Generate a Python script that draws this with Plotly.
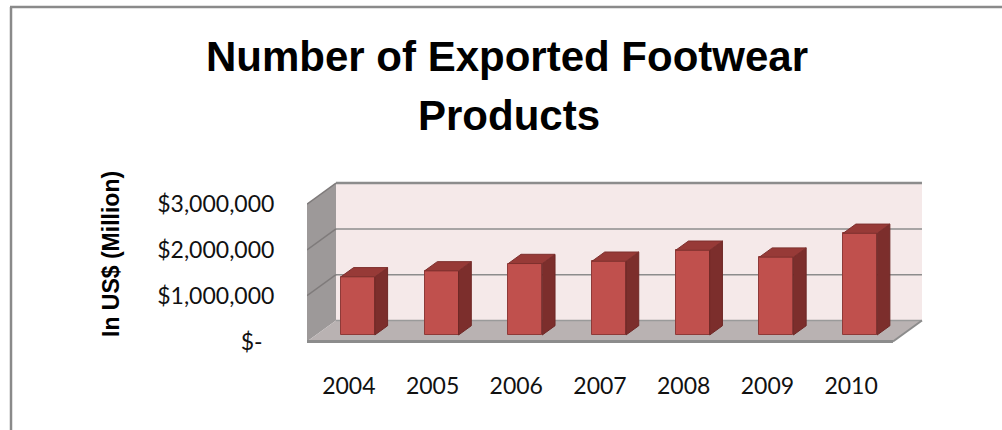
import plotly.graph_objects as go

# ---------------- data ----------------
years = ["2004", "2005", "2006", "2007", "2008", "2009", "2010"]
exports_usd = [1270000, 1400000, 1560000, 1610000, 1850000, 1700000, 2220000]
y_tick_values = [0, 1000000, 2000000, 3000000]
y_tick_labels = ["$-\u00a0\u00a0", "$1,000,000", "$2,000,000", "$3,000,000"]
title_lines = ["Number of Exported Footwear", "Products"]
y_title = "In US$ (Million)"

# ---------------- geometry (pixels) ----------------
W, H = 1002, 430
L, R, T, B = 307, 924, 180, 346          # plot area in pixels
PX_PER_CAT = 83.71
PX_PER_UNIT = 45.8 / 1e6                 # pixels per dollar
Y0_PX = 341.5                            # front-plane zero line
DEPTH_PX_X, DEPTH_PX_Y = 29, 21          # full depth offset of the 3-D box
DX = DEPTH_PX_X / PX_PER_CAT
DY = DEPTH_PX_Y / PX_PER_UNIT
D0, D1 = 0.31, 0.75                      # bar depth (front / back)
BAR_W = 34 / PX_PER_CAT
VMAX = 3000000

x_range = [-0.5, -0.5 + (R - L) / PX_PER_CAT]
y_range = [-(B - Y0_PX) / PX_PER_UNIT, (Y0_PX - T) / PX_PER_UNIT]
n = len(years)
xl, xr = -0.5, n - 0.5


def pxx(px):
    return (px - L) / (R - L)


def pyy(py):
    return (B - py) / (B - T)


fig = go.Figure()

# front faces of the columns
bar_x = [i + D0 * DX for i in range(n)]
fig.add_trace(go.Bar(
    x=bar_x, y=exports_usd, base=[D0 * DY] * n, width=BAR_W,
    marker=dict(color="#C0504D", line=dict(color="#8E3A38", width=1)),
    hoverinfo="skip", showlegend=False,
))

# side faces and top caps derived from the same values
side_x, side_y, top_x, top_y = [], [], [], []
dd = D1 - D0
for i, v in enumerate(exports_usd):
    cx = bar_x[i]
    a, b = cx - BAR_W / 2, cx + BAR_W / 2
    yb, yt = D0 * DY, D0 * DY + v
    side_x += [b, b, b + dd * DX, b + dd * DX, b, None]
    side_y += [yb, yt, yt + dd * DY, yb + dd * DY, yb, None]
    top_x += [a, b, b + dd * DX, a + dd * DX, a, None]
    top_y += [yt, yt, yt + dd * DY, yt + dd * DY, yt, None]

fig.add_trace(go.Scatter(x=side_x, y=side_y, mode="lines", fill="toself",
                         fillcolor="#7C2E2C", line=dict(color="#6E2826", width=1),
                         hoverinfo="skip", showlegend=False))
fig.add_trace(go.Scatter(x=top_x, y=top_y, mode="lines", fill="toself",
                         fillcolor="#973A37", line=dict(color="#7E302E", width=1),
                         hoverinfo="skip", showlegend=False))

shapes = []
grey = "#8C8C8C"
# back wall
shapes.append(dict(type="path", xref="x", yref="y", layer="below",
                   path=f"M{xl+DX},{DY} L{xr+DX},{DY} L{xr+DX},{VMAX+DY} L{xl+DX},{VMAX+DY} Z",
                   fillcolor="#F5E9E9", line=dict(width=0)))
# left wall
shapes.append(dict(type="path", xref="x", yref="y", layer="below",
                   path=f"M{xl},0 L{xl+DX},{DY} L{xl+DX},{VMAX+DY} L{xl},{VMAX} Z",
                   fillcolor="#9D9999", line=dict(width=0)))
# floor
shapes.append(dict(type="path", xref="x", yref="y", layer="below",
                   path=f"M{xl},0 L{xr},0 L{xr+DX},{DY} L{xl+DX},{DY} Z",
                   fillcolor="#B9B2B2", line=dict(width=0)))
# gridlines on back and left wall
for v in y_tick_values[1:]:
    w = 2.5 if v == VMAX else 1.5
    shapes.append(dict(type="line", xref="x", yref="y", layer="below",
                       x0=xl + DX, x1=xr + DX, y0=v + DY, y1=v + DY,
                       line=dict(color=grey, width=w)))
    shapes.append(dict(type="line", xref="x", yref="y", layer="below",
                       x0=xl, x1=xl + DX, y0=v, y1=v + DY,
                       line=dict(color="#7F7B7B", width=1.5)))
# floor back edge
shapes.append(dict(type="line", xref="x", yref="y", layer="below",
                   x0=xl + DX, x1=xr + DX, y0=DY, y1=DY,
                   line=dict(color="#9A9A9A", width=1.5)))
# floor front edge and right edge
shapes.append(dict(type="line", xref="x", yref="y", layer="below",
                   x0=xl, x1=xr, y0=0, y1=0, line=dict(color=grey, width=3)))
shapes.append(dict(type="line", xref="x", yref="y", layer="below",
                   x0=xr, x1=xr + DX, y0=0, y1=DY, line=dict(color=grey, width=2)))

# outer chart border (top and left)
shapes.append(dict(type="line", xref="paper", yref="paper",
                   x0=pxx(10), x1=pxx(1010), y0=pyy(7), y1=pyy(7),
                   line=dict(color="#8A8A8A", width=2.5)))
shapes.append(dict(type="line", xref="paper", yref="paper",
                   x0=pxx(11), x1=pxx(11), y0=pyy(7), y1=pyy(440),
                   line=dict(color="#8A8A8A", width=2.5)))

annotations = [
    dict(text=f"<b>{title_lines[0]}</b>", xref="paper", yref="paper",
         x=pxx(507), y=pyy(57), xanchor="center", yanchor="middle", showarrow=False,
         font=dict(family="Liberation Sans", size=42, color="#000000")),
    dict(text=f"<b>{title_lines[1]}</b>", xref="paper", yref="paper",
         x=pxx(509), y=pyy(115), xanchor="center", yanchor="middle", showarrow=False,
         font=dict(family="Liberation Sans", size=42, color="#000000")),
    dict(text=f"<b>{y_title}</b>", xref="paper", yref="paper",
         x=pxx(111), y=pyy(254), xanchor="center", yanchor="middle", showarrow=False,
         textangle=-90, font=dict(family="Liberation Sans", size=23, color="#000000")),
]

tick_font = dict(family="Lato", size=23, color="#111111")
fig.update_layout(
    width=W, height=H, autosize=False,
    margin=dict(l=L, r=W - R, t=T, b=H - B, pad=0),
    paper_bgcolor="white", plot_bgcolor="rgba(0,0,0,0)",
    showlegend=False, shapes=shapes, annotations=annotations,
    bargap=0,
    xaxis=dict(range=x_range, tickmode="array", tickvals=list(range(n)), ticktext=years,
               showgrid=False, zeroline=False, showline=False,
               ticks="outside", ticklen=19, tickcolor="rgba(0,0,0,0)",
               tickfont=tick_font, fixedrange=True),
    yaxis=dict(range=y_range, tickmode="array", tickvals=y_tick_values, ticktext=y_tick_labels,
               showgrid=False, zeroline=False, showline=False,
               ticks="outside", ticklen=27, tickcolor="rgba(0,0,0,0)",
               tickfont=tick_font, fixedrange=True),
)

fig.write_html("out.html")
